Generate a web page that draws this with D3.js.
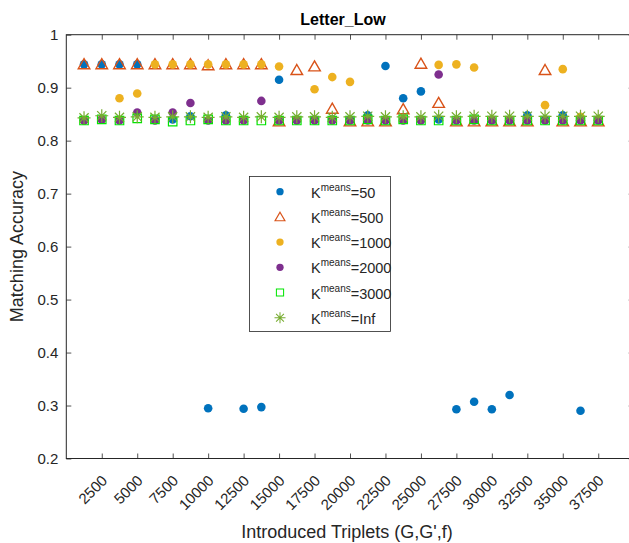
<!DOCTYPE html>
<html><head><meta charset="utf-8">
<script src="https://cdnjs.cloudflare.com/ajax/libs/d3/7.8.5/d3.min.js"></script>
<style>body{margin:0;background:#fff;}svg{display:block;font-family:"Liberation Sans",Arial,sans-serif;}</style>
</head><body><svg id="c" width="629" height="543"></svg>
<script>
const triplets = [1250,2500,3750,5000,6250,7500,8750,10000,11250,12500,13750,15000,16250,17500,18750,20000,21250,22500,23750,25000,26250,27500,28750,30000,31250,32500,33750,35000,36250,37500];
const k50   = [.944,.944,.944,.944,.840,.840,.846,.295,.848,.294,.297,.915,.840,.840,.840,.840,.848,.941,.880,.893,.840,.293,.307,.293,.320,.848,.840,.848,.290,.840];
const k500  = [.944,.944,.944,.944,.944,.944,.944,.942,.944,.944,.944,.836,.933,.940,.860,.836,.836,.836,.859,.945,.871,.836,.836,.836,.836,.836,.933,.836,.836,.836];
const k1000 = [.838,.840,.880,.889,.944,.944,.944,.944,.944,.944,.944,.940,.840,.897,.920,.911,.840,.840,.840,.840,.943,.944,.938,.840,.840,.840,.867,.935,.845,.840];
const k2000 = [.838,.840,.838,.853,.838,.853,.871,.838,.838,.838,.875,.838,.838,.838,.838,.838,.838,.838,.838,.838,.925,.838,.838,.838,.838,.838,.838,.838,.838,.838];
const k3000 = [.838,.840,.838,.842,.840,.836,.838,.840,.838,.838,.838,.838,.838,.838,.838,.838,.840,.838,.840,.838,.838,.838,.840,.838,.838,.838,.838,.838,.838,.838];
const kInf  = [.843,.847,.844,.845,.844,.845,.845,.844,.845,.844,.845,.844,.845,.845,.844,.845,.846,.845,.845,.845,.846,.845,.846,.846,.846,.846,.846,.846,.846,.846];
const xTicks = [2500,5000,7500,10000,12500,15000,17500,20000,22500,25000,27500,30000,32500,35000,37500];
const yTicks = [0.2,0.3,0.4,0.5,0.6,0.7,0.8,0.9,1];
const seriesNames = ["50","500","1000","2000","3000","Inf"];

const svg = d3.select("#c");
const L=66.3, R=633.7, T=34.7, B=458.5;
const x = d3.scaleLinear().domain([0,40000]).range([L,R]);
const y = d3.scaleLinear().domain([0.2,1]).range([B,T]);
const axisCol = "#262626";

const g = svg.append("g");
g.append("rect").attr("x",L).attr("y",T).attr("width",R-L).attr("height",B-T).attr("fill","#fff");

function styleAxis(sel){
  sel.select(".domain").remove();
  sel.selectAll(".tick line").attr("stroke",axisCol).attr("stroke-width",0.8);
  sel.selectAll("text").attr("fill",axisCol).attr("font-size","15px").attr("font-family","Liberation Sans, Arial, sans-serif");
}
const xb = g.append("g").attr("transform",`translate(0,${B})`).call(d3.axisBottom(x).tickValues(xTicks).tickSizeInner(-5).tickSizeOuter(0).tickFormat(d3.format("d")));
styleAxis(xb);
xb.selectAll("text").attr("text-anchor","end").attr("dy","0").attr("y",0).attr("x",0).attr("transform","translate(6,23) rotate(-45)");
const xt = g.append("g").attr("transform",`translate(0,${T})`).call(d3.axisTop(x).tickValues(xTicks).tickSizeInner(-5).tickSizeOuter(0).tickFormat(""));
styleAxis(xt);
const yl = g.append("g").attr("transform",`translate(${L},0)`).call(d3.axisLeft(y).tickValues(yTicks).tickSizeInner(-5).tickSizeOuter(0).tickPadding(8).tickFormat(d=>d3.format("")(+d.toFixed(1))));
styleAxis(yl);
const yr = g.append("g").attr("transform",`translate(${R},0)`).call(d3.axisRight(y).tickValues(yTicks).tickSizeInner(-5).tickSizeOuter(0).tickFormat(""));
styleAxis(yr);
g.append("rect").attr("x",L).attr("y",T).attr("width",R-L).attr("height",B-T).attr("fill","none").attr("stroke",axisCol).attr("stroke-width",1);

const cols = {b:"#0072BD", r:"#D95319", o:"#EDB120", p:"#7E2F8E", g:"#00E600", s:"#77AC30"};
const circ = d3.symbol().type(d3.symbolCircle).size(58)();
const tri = d3.symbol().type(d3.symbolTriangle).size(58)();
const sq = d3.symbol().type(d3.symbolSquare).size(72)();
function starPath(r){
  let p="";
  for(let i=0;i<4;i++){const a=i*Math.PI/4; const dx=r*Math.cos(a), dy=r*Math.sin(a); p+=`M${-dx},${-dy}L${dx},${dy}`;}
  return p;
}
const star = starPath(6.5);
const marks = svg.append("g");
function draw(vals, path, fill, stroke, sw, dy){
  marks.append("g").selectAll("path").data(vals).join("path")
    .attr("d",path)
    .attr("transform",(d,i)=>`translate(${x(triplets[i])},${y(d)+(dy||0)})`)
    .attr("fill",fill).attr("stroke",stroke).attr("stroke-width",sw);
}
draw(k50, circ, cols.b, "none", 0);
draw(k500, tri, "none", cols.r, 1.4, 1);
draw(k1000, circ, cols.o, "none", 0);
draw(k2000, circ, cols.p, "none", 0);
draw(k3000, sq, "none", cols.g, 1.2);
draw(kInf, star, "none", cols.s, 1.2);

svg.append("text").attr("x",343).attr("y",25).attr("text-anchor","middle").attr("font-weight","bold").attr("font-size","16px").attr("fill","#000").text("Letter_Low");
svg.append("text").attr("x",347).attr("y",538).attr("text-anchor","middle").attr("font-size","18px").attr("fill",axisCol).text("Introduced Triplets (G,G',f)");
svg.append("text").attr("transform",`translate(23,${(T+B)/2}) rotate(-90)`).attr("text-anchor","middle").attr("font-size","18px").attr("fill",axisCol).text("Matching Accuracy");

const lg = svg.append("g");
lg.append("rect").attr("x",249.5).attr("y",176.5).attr("width",141).attr("height",155).attr("fill","#fff").attr("stroke",axisCol).attr("stroke-width",0.8);
const legMarks = [
  {d:circ, fill:cols.b, stroke:"none", sw:0},
  {d:tri, fill:"none", stroke:cols.r, sw:1.4},
  {d:circ, fill:cols.o, stroke:"none", sw:0},
  {d:circ, fill:cols.p, stroke:"none", sw:0},
  {d:sq, fill:"none", stroke:cols.g, sw:1.2},
  {d:star, fill:"none", stroke:cols.s, sw:1.2}
];
seriesNames.forEach((n,i)=>{
  const cy = 191.7 + i*25.2;
  const m = legMarks[i];
  lg.append("path").attr("d",m.d).attr("transform",`translate(280,${cy + (i===1?1:0)}) scale(0.85)`).attr("fill",m.fill).attr("stroke",m.stroke).attr("stroke-width",m.sw);
  const t = lg.append("text").attr("x",311).attr("y",cy+6).attr("font-size","14.5px").attr("fill",axisCol);
  t.append("tspan").text("K");
  t.append("tspan").attr("font-size","10px").attr("dy","-7").text("means");
  t.append("tspan").attr("dy","7").text("="+n);
});
</script></body></html>
